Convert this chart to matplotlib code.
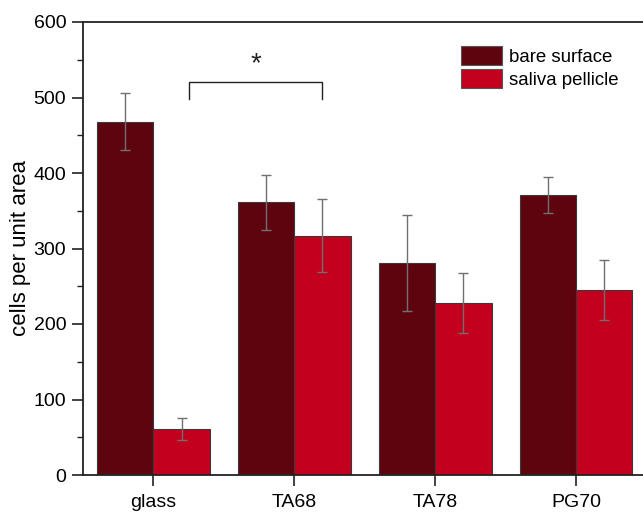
import matplotlib
matplotlib.use("Agg")
import matplotlib.pyplot as plt
import numpy as np
from matplotlib.ticker import MultipleLocator

plt.rcParams['font.family'] = ['Liberation Sans', 'DejaVu Sans']

categories = ["glass", "TA68", "TA78", "PG70"]
series_names = ["bare surface", "saliva pellicle"]
bare_mean = [468, 361, 281, 371]
bare_err = [38, 36, 64, 24]
saliva_mean = [61, 317, 228, 245]
saliva_err = [15, 48, 40, 40]
y_ticks = [0, 100, 200, 300, 400, 500, 600]

colors = ["#5e040f", "#c3001e"]

fig = plt.figure(figsize=(6.43, 5.13), dpi=100)
ax = fig.add_axes([83/643, 1-475/513, (646.5-83)/643, (475-22)/513])

x = np.arange(len(categories))
w = 0.4
ekw = dict(ecolor="#707070", elinewidth=1.0, capsize=3.6, capthick=1.0)
ax.bar(x - w/2, bare_mean, w, yerr=bare_err, color=colors[0], edgecolor="#3a3a3a",
       linewidth=0.8, label=series_names[0], error_kw=ekw, zorder=2)
ax.bar(x + w/2, saliva_mean, w, yerr=saliva_err, color=colors[1], edgecolor="#3a3a3a",
       linewidth=0.8, label=series_names[1], error_kw=ekw, zorder=2)

ax.set_xlim(-0.5, 3.5)
ax.set_ylim(0, 600)
ax.set_xticks(x)
ax.set_xticklabels(categories)
ax.set_yticks(y_ticks)
ax.yaxis.set_minor_locator(MultipleLocator(50))
ax.tick_params(axis='both', which='major', direction='out', length=8, width=1.2,
               labelsize=14, color="#222222")
ax.tick_params(axis='y', which='minor', direction='out', length=4, width=1.0, color="#222222")
ax.tick_params(axis='x', pad=6)
ax.tick_params(axis='y', pad=4)
for s in ax.spines.values():
    s.set_linewidth(1.3)
    s.set_color("#222222")
ax.spines['right'].set_visible(False)

ax.set_ylabel("cells per unit area", fontsize=16, labelpad=2)

# significance bracket
bx0, bx1, by, bleg = 0.25, 1.2, 520, 498
ax.plot([bx0, bx0, bx1, bx1], [bleg, by, by, bleg], color="#222222", lw=1.0, zorder=3)
ax.text((bx0 + bx1) / 2, 544, "*", ha="center", va="center", fontsize=20, color="#222222")

leg = ax.legend(loc="upper left", bbox_to_anchor=(459/643, 1-44/513), bbox_transform=fig.transFigure,
                frameon=False, fontsize=13.4, handlelength=2.23, handleheight=1.2,
                handletextpad=0.35, labelspacing=0.2, borderpad=0.1, borderaxespad=0)
for h in leg.legend_handles:
    h.set_edgecolor("#555555")

fig.savefig("out.png", dpi=100)
